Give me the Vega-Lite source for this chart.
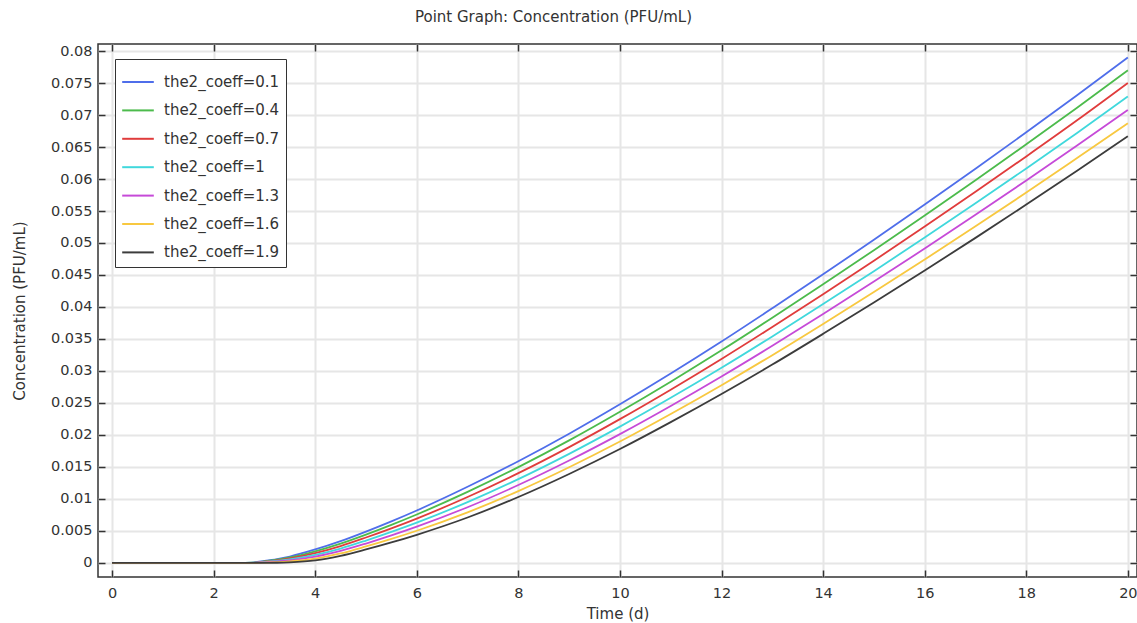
{
  "$schema": "https://vega.github.io/schema/vega-lite/v6.json",
  "width": 1039,
  "height": 533,
  "autosize": {"type": "none"},
  "padding": {"left": 98, "top": 44, "right": 0, "bottom": 46},
  "background": "white",
  "title": {"text": "Point Graph: Concentration (PFU/mL)", "font": "DejaVu Sans", "fontSize": 15, "fontWeight": "normal", "color": "#333333", "offset": 18, "dx": -64},
  "config": {
    "view": {"stroke": "#333333", "strokeWidth": 1.5},
    "axis": {
      "domain": false,
      "tickColor": "#333333",
      "tickWidth": 1.5,
      "tickSize": -7,
      "labelFont": "DejaVu Sans",
      "labelFontSize": 14.5,
      "labelColor": "#333333",
      "gridColor": "#e6e6e6",
      "gridWidth": 2,
      "titleFont": "DejaVu Sans",
      "titleFontSize": 15,
      "titleFontWeight": "normal",
      "titleColor": "#333333"
    }
  },
  "data": {"values": [
    {"s":"0.1","t":0,"v":0},{"s":"0.4","t":0,"v":0},{"s":"0.7","t":0,"v":0},{"s":"1","t":0,"v":0},{"s":"1.3","t":0,"v":0},{"s":"1.6","t":0,"v":0},{"s":"1.9","t":0,"v":0},
    {"s":"0.1","t":1,"v":0},{"s":"0.4","t":1,"v":0},{"s":"0.7","t":1,"v":0},{"s":"1","t":1,"v":0},{"s":"1.3","t":1,"v":0},{"s":"1.6","t":1,"v":0},{"s":"1.9","t":1,"v":0},
    {"s":"0.1","t":2,"v":0},{"s":"0.4","t":2,"v":0},{"s":"0.7","t":2,"v":0},{"s":"1","t":2,"v":0},{"s":"1.3","t":2,"v":0},{"s":"1.6","t":2,"v":0},{"s":"1.9","t":2,"v":0},
    {"s":"0.1","t":2.5,"v":0},{"s":"0.4","t":2.5,"v":0},{"s":"0.7","t":2.5,"v":0},{"s":"1","t":2.5,"v":0},{"s":"1.3","t":2.5,"v":0},{"s":"1.6","t":2.5,"v":0},{"s":"1.9","t":2.5,"v":0},
    {"s":"0.1","t":2.75,"v":0.00005},{"s":"0.4","t":2.75,"v":0.00003},{"s":"0.7","t":2.75,"v":0.00001},{"s":"1","t":2.75,"v":0},{"s":"1.3","t":2.75,"v":0},{"s":"1.6","t":2.75,"v":0},{"s":"1.9","t":2.75,"v":0},
    {"s":"0.1","t":3,"v":0.0003},{"s":"0.4","t":3,"v":0.00025},{"s":"0.7","t":3,"v":0.0002},{"s":"1","t":3,"v":0.00015},{"s":"1.3","t":3,"v":0.0001},{"s":"1.6","t":3,"v":0.00005},{"s":"1.9","t":3,"v":0},
    {"s":"0.1","t":3.25,"v":0.0006},{"s":"0.4","t":3.25,"v":0.000505},{"s":"0.7","t":3.25,"v":0.00041},{"s":"1","t":3.25,"v":0.000315},{"s":"1.3","t":3.25,"v":0.00022},{"s":"1.6","t":3.25,"v":0.000125},{"s":"1.9","t":3.25,"v":0.00003},
    {"s":"0.1","t":3.5,"v":0.001},{"s":"0.4","t":3.5,"v":0.00085},{"s":"0.7","t":3.5,"v":0.0007},{"s":"1","t":3.5,"v":0.00055},{"s":"1.3","t":3.5,"v":0.0004},{"s":"1.6","t":3.5,"v":0.00025},{"s":"1.9","t":3.5,"v":0.0001},
    {"s":"0.1","t":4,"v":0.0021},{"s":"0.4","t":4,"v":0.00182},{"s":"0.7","t":4,"v":0.00153},{"s":"1","t":4,"v":0.00125},{"s":"1.3","t":4,"v":0.00097},{"s":"1.6","t":4,"v":0.00068},{"s":"1.9","t":4,"v":0.0004},
    {"s":"0.1","t":4.5,"v":0.0034},{"s":"0.4","t":4.5,"v":0.00302},{"s":"0.7","t":4.5,"v":0.00263},{"s":"1","t":4.5,"v":0.00225},{"s":"1.3","t":4.5,"v":0.00187},{"s":"1.6","t":4.5,"v":0.00148},{"s":"1.9","t":4.5,"v":0.0011},
    {"s":"0.1","t":5,"v":0.0049},{"s":"0.4","t":5,"v":0.00443},{"s":"0.7","t":5,"v":0.00397},{"s":"1","t":5,"v":0.0035},{"s":"1.3","t":5,"v":0.00303},{"s":"1.6","t":5,"v":0.00257},{"s":"1.9","t":5,"v":0.0021},
    {"s":"0.1","t":5.5,"v":0.0065},{"s":"0.4","t":5.5,"v":0.00595},{"s":"0.7","t":5.5,"v":0.0054},{"s":"1","t":5.5,"v":0.00485},{"s":"1.3","t":5.5,"v":0.0043},{"s":"1.6","t":5.5,"v":0.00375},{"s":"1.9","t":5.5,"v":0.0032},
    {"s":"0.1","t":6,"v":0.0082},{"s":"0.4","t":6,"v":0.00757},{"s":"0.7","t":6,"v":0.00693},{"s":"1","t":6,"v":0.0063},{"s":"1.3","t":6,"v":0.00567},{"s":"1.6","t":6,"v":0.00503},{"s":"1.9","t":6,"v":0.0044},
    {"s":"0.1","t":7,"v":0.0119},{"s":"0.4","t":7,"v":0.0111},{"s":"0.7","t":7,"v":0.0103},{"s":"1","t":7,"v":0.0095},{"s":"1.3","t":7,"v":0.0087},{"s":"1.6","t":7,"v":0.0079},{"s":"1.9","t":7,"v":0.0071},
    {"s":"0.1","t":8,"v":0.0159},{"s":"0.4","t":8,"v":0.01497},{"s":"0.7","t":8,"v":0.01403},{"s":"1","t":8,"v":0.0131},{"s":"1.3","t":8,"v":0.01217},{"s":"1.6","t":8,"v":0.01123},{"s":"1.9","t":8,"v":0.0103},
    {"s":"0.1","t":9,"v":0.0202},{"s":"0.4","t":9,"v":0.01915},{"s":"0.7","t":9,"v":0.0181},{"s":"1","t":9,"v":0.01705},{"s":"1.3","t":9,"v":0.016},{"s":"1.6","t":9,"v":0.01495},{"s":"1.9","t":9,"v":0.0139},
    {"s":"0.1","t":10,"v":0.0248},{"s":"0.4","t":10,"v":0.02363},{"s":"0.7","t":10,"v":0.02247},{"s":"1","t":10,"v":0.0213},{"s":"1.3","t":10,"v":0.02013},{"s":"1.6","t":10,"v":0.01897},{"s":"1.9","t":10,"v":0.0178},
    {"s":"0.1","t":11,"v":0.0296},{"s":"0.4","t":11,"v":0.02833},{"s":"0.7","t":11,"v":0.02707},{"s":"1","t":11,"v":0.0258},{"s":"1.3","t":11,"v":0.02453},{"s":"1.6","t":11,"v":0.02327},{"s":"1.9","t":11,"v":0.022},
    {"s":"0.1","t":12,"v":0.0346},{"s":"0.4","t":12,"v":0.03323},{"s":"0.7","t":12,"v":0.03187},{"s":"1","t":12,"v":0.0305},{"s":"1.3","t":12,"v":0.02913},{"s":"1.6","t":12,"v":0.02777},{"s":"1.9","t":12,"v":0.0264},
    {"s":"0.1","t":13,"v":0.0398},{"s":"0.4","t":13,"v":0.03833},{"s":"0.7","t":13,"v":0.03687},{"s":"1","t":13,"v":0.0354},{"s":"1.3","t":13,"v":0.03393},{"s":"1.6","t":13,"v":0.03247},{"s":"1.9","t":13,"v":0.031},
    {"s":"0.1","t":14,"v":0.0451},{"s":"0.4","t":14,"v":0.04355},{"s":"0.7","t":14,"v":0.042},{"s":"1","t":14,"v":0.04045},{"s":"1.3","t":14,"v":0.0389},{"s":"1.6","t":14,"v":0.03735},{"s":"1.9","t":14,"v":0.0358},
    {"s":"0.1","t":15,"v":0.0505},{"s":"0.4","t":15,"v":0.04887},{"s":"0.7","t":15,"v":0.04723},{"s":"1","t":15,"v":0.0456},{"s":"1.3","t":15,"v":0.04397},{"s":"1.6","t":15,"v":0.04233},{"s":"1.9","t":15,"v":0.0407},
    {"s":"0.1","t":16,"v":0.056},{"s":"0.4","t":16,"v":0.05428},{"s":"0.7","t":16,"v":0.05257},{"s":"1","t":16,"v":0.05085},{"s":"1.3","t":16,"v":0.04913},{"s":"1.6","t":16,"v":0.04742},{"s":"1.9","t":16,"v":0.0457},
    {"s":"0.1","t":17,"v":0.0616},{"s":"0.4","t":17,"v":0.0598},{"s":"0.7","t":17,"v":0.058},{"s":"1","t":17,"v":0.0562},{"s":"1.3","t":17,"v":0.0544},{"s":"1.6","t":17,"v":0.0526},{"s":"1.9","t":17,"v":0.0508},
    {"s":"0.1","t":18,"v":0.0673},{"s":"0.4","t":18,"v":0.06542},{"s":"0.7","t":18,"v":0.06353},{"s":"1","t":18,"v":0.06165},{"s":"1.3","t":18,"v":0.05977},{"s":"1.6","t":18,"v":0.05788},{"s":"1.9","t":18,"v":0.056},
    {"s":"0.1","t":19,"v":0.0731},{"s":"0.4","t":19,"v":0.07113},{"s":"0.7","t":19,"v":0.06917},{"s":"1","t":19,"v":0.0672},{"s":"1.3","t":19,"v":0.06523},{"s":"1.6","t":19,"v":0.06327},{"s":"1.9","t":19,"v":0.0613},
    {"s":"0.1","t":20,"v":0.079},{"s":"0.4","t":20,"v":0.077},{"s":"0.7","t":20,"v":0.075},{"s":"1","t":20,"v":0.0729},{"s":"1.3","t":20,"v":0.0708},{"s":"1.6","t":20,"v":0.0687},{"s":"1.9","t":20,"v":0.0667}
  ]},
  "layer": [
    {
      "mark": {"type": "line", "strokeWidth": 1.8, "interpolate": "monotone", "clip": true},
      "encoding": {
        "x": {"field": "t", "type": "quantitative",
          "scale": {"domain": [-0.276, 20.18], "nice": false, "zero": false},
          "axis": {"orient": "bottom", "values": [0,2,4,6,8,10,12,14,16,18,20], "title": "Time (d)", "labelPadding": 16, "titlePadding": 7, "labelFlush": false}},
        "y": {"field": "v", "type": "quantitative",
          "scale": {"domain": [-0.0022, 0.0811], "nice": false, "zero": false},
          "axis": {"orient": "left", "values": [0,0.005,0.01,0.015,0.02,0.025,0.03,0.035,0.04,0.045,0.05,0.055,0.06,0.065,0.07,0.075,0.08], "format": "~g", "title": "Concentration (PFU/mL)", "labelPadding": 13, "titlePadding": 23, "labelOverlap": false}},
        "color": {"field": "s", "type": "nominal",
          "scale": {"domain": ["0.1","0.4","0.7","1","1.3","1.6","1.9"], "range": ["#4f6eea","#4cbb4c","#e03c3c","#40d8dc","#c64ad8","#f8c840","#3c3c3c"]},
          "legend": {"orient": "none", "legendX": 17, "legendY": 15, "title": null,
            "labelExpr": "'the2_coeff=' + datum.label",
            "symbolType": "stroke", "symbolSize": 1000, "symbolStrokeWidth": 2,
            "labelFont": "DejaVu Sans", "labelFontSize": 15, "labelColor": "#333333", "labelOffset": 9,
            "padding": 6, "rowPadding": 3.4, "fillColor": "white", "strokeColor": "#333333"}}
      }
    },
    {
      "mark": {"type": "line", "opacity": 0},
      "encoding": {
        "x": {"field": "t", "type": "quantitative",
          "axis": {"orient": "top", "values": [0,2,4,6,8,10,12,14,16,18,20], "labels": false, "title": null, "grid": false}},
        "y": {"field": "v", "type": "quantitative",
          "axis": {"orient": "right", "values": [0,0.005,0.01,0.015,0.02,0.025,0.03,0.035,0.04,0.045,0.05,0.055,0.06,0.065,0.07,0.075,0.08], "labels": false, "title": null, "grid": false}},
        "detail": {"field": "s"}
      }
    }
  ],
  "resolve": {"axis": {"x": "independent", "y": "independent"}}
}
